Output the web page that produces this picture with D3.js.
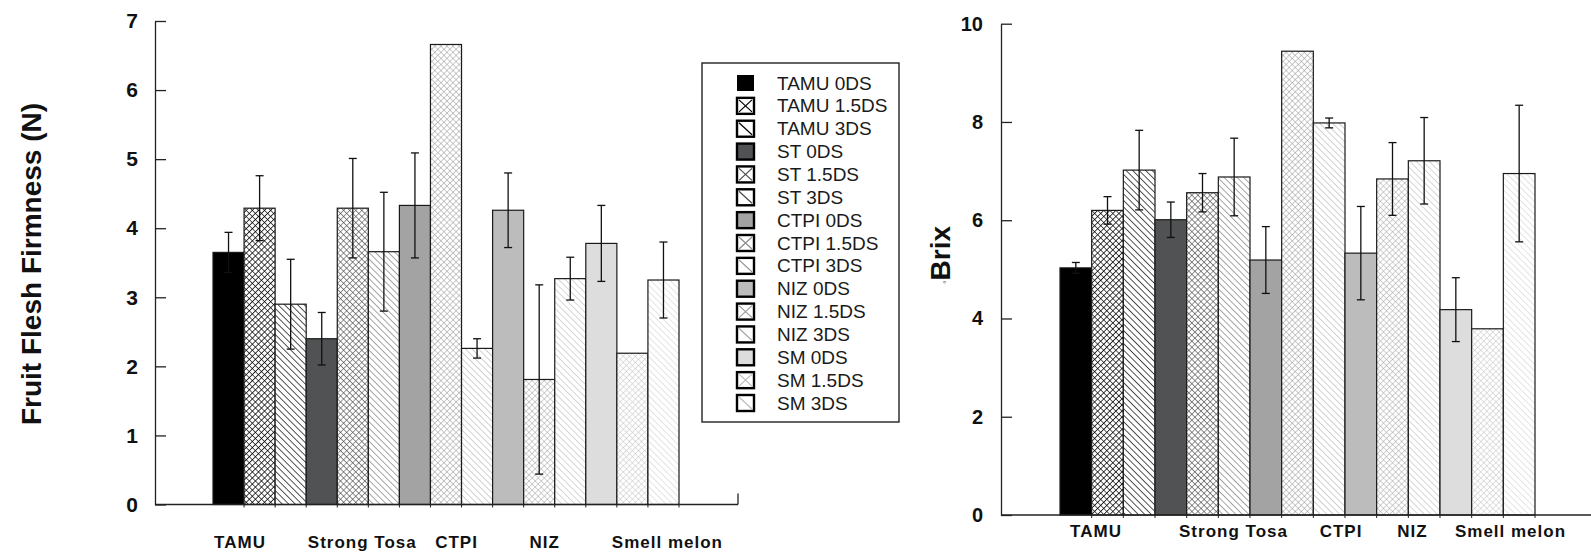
<!DOCTYPE html>
<html>
<head>
<title>Firmness and Brix</title>
<script src="https://d3js.org/d3.v7.min.js"></script>
<style>
  body { margin: 0; background: #fff; }
  svg { display: block; font-family: "Liberation Sans", Arial, sans-serif; }
  .axis path, .axis line { stroke: #222; stroke-width: 1.3; }
  .axis text { font-weight: bold; fill: #111; }
  .cat { font-size: 17px; font-weight: bold; letter-spacing: 1px; fill: #111; }
  .leg { font-size: 19px; fill: #1a1a1a; }
</style>
</head>
<body>
<svg width="1591" height="555"></svg>
<script>
// ---- data ----
const groups = ["TAMU", "Strong Tosa", "CTPI", "NIZ", "Smell melon"];
const codes = ["TAMU", "ST", "CTPI", "NIZ", "SM"];
const treatments = ["0DS", "1.5DS", "3DS"];

// bar order: group x treatment
const firmness    = [3.65, 4.29, 2.90,  2.40, 4.29, 3.66,  4.33, 6.66, 2.26,  4.26, 1.81, 3.27,  3.78, 2.19, 3.25];
const firmnessErr = [0.29, 0.47, 0.65,  0.38, 0.72, 0.86,  0.76, null, 0.14,  0.54, 1.37, 0.31,  0.55, null, 0.55];
const brix        = [5.03, 6.20, 7.02,  6.01, 6.56, 6.88,  5.19, 9.44, 7.98,  5.33, 6.84, 7.21,  4.18, 3.79, 6.95];
const brixErr     = [0.11, 0.28, 0.81,  0.36, 0.39, 0.79,  0.68, null, 0.10,  0.95, 0.74, 0.88,  0.65, null, 1.39];

const firmTicks = [0, 1, 2, 3, 4, 5, 6, 7];
const brixTicks = [0, 2, 4, 6, 8, 10];

// ---- styling per group ----
const solid = ["#000000", "#505254", "#a3a3a3", "#bcbcbc", "#dcdddc"];
const hatch = ["#000000", "#4a4a4a", "#8c8c8c", "#9c9c9c", "#bdbdbd"];
const hatchW = [1.5, 1.1, 0.9, 0.9, 0.9];

const keys = [];
codes.forEach((c, gi) => treatments.forEach((t, ti) => keys.push({ key: c + " " + t, gi, ti })));

const svg = d3.select("svg");
const defs = svg.append("defs");

codes.forEach((c, gi) => {
  // crosshatch for 1.5DS
  const s = 4.3;
  const px = defs.append("pattern")
    .attr("id", "cross" + gi)
    .attr("patternUnits", "userSpaceOnUse")
    .attr("width", s).attr("height", s)
    .attr("patternTransform", "rotate(45)");
  px.append("rect").attr("width", s).attr("height", s).attr("fill", "#fff");
  px.append("path").attr("d", `M0,0H${s}M0,0V${s}`)
    .attr("stroke", hatch[gi]).attr("stroke-width", hatchW[gi]);

  // back diagonal for 3DS
  const d = 4.6;
  const pd = defs.append("pattern")
    .attr("id", "diag" + gi)
    .attr("patternUnits", "userSpaceOnUse")
    .attr("width", d).attr("height", d)
    .attr("patternTransform", "rotate(45)");
  pd.append("rect").attr("width", d).attr("height", d).attr("fill", "#fff");
  pd.append("path").attr("d", `M0,0H${d}`)
    .attr("stroke", hatch[gi]).attr("stroke-width", hatchW[gi] * 0.9);
});

function fillOf(k) {
  if (k.ti === 0) return solid[k.gi];
  if (k.ti === 1) return `url(#cross${k.gi})`;
  return `url(#diag${k.gi})`;
}

function drawChart(opt) {
  const g = svg.append("g");
  const x = d3.scaleBand().domain(keys.map(k => k.key)).range(opt.barRange).padding(0);
  const y = d3.scaleLinear().domain([0, d3.max(opt.ticks)]).range(opt.yRange);
  const y0 = y(0);

  // bars
  g.selectAll(".bar").data(keys).enter().append("rect")
    .attr("x", k => x(k.key))
    .attr("y", (k, i) => y(opt.values[i]))
    .attr("width", x.bandwidth())
    .attr("height", (k, i) => y0 - y(opt.values[i]))
    .attr("fill", fillOf)
    .attr("stroke", "#1a1a1a")
    .attr("stroke-width", 1.2);

  // error bars
  const eb = keys.map((k, i) => ({ k, v: opt.values[i], e: opt.errors[i] })).filter(d => d.e != null);
  const cap = 4;
  const cx = d => x(d.k.key) + x.bandwidth() / 2;
  const eg = g.selectAll(".err").data(eb).enter().append("g")
    .attr("stroke", "#111").attr("stroke-width", 1.3);
  eg.append("line")
    .attr("x1", cx).attr("x2", cx)
    .attr("y1", d => y(d.v + d.e)).attr("y2", d => y(d.v - d.e));
  eg.append("line")
    .attr("x1", d => cx(d) - cap).attr("x2", d => cx(d) + cap)
    .attr("y1", d => y(d.v + d.e)).attr("y2", d => y(d.v + d.e));
  eg.append("line")
    .attr("x1", d => cx(d) - cap).attr("x2", d => cx(d) + cap)
    .attr("y1", d => y(d.v - d.e)).attr("y2", d => y(d.v - d.e));

  // y axis
  g.append("g")
    .attr("class", "axis")
    .attr("transform", `translate(${opt.axisX},0)`)
    .call(d3.axisLeft(y).tickValues(opt.ticks).tickFormat(d3.format("d"))
      .tickSizeInner(-11).tickSizeOuter(0).tickPadding(opt.tickPad))
    .call(a => a.selectAll("text").attr("font-size", opt.tickFont));

  // x axis baseline
  g.append("line").attr("x1", opt.axisX).attr("x2", opt.axisEnd)
    .attr("y1", y0).attr("y2", y0).attr("stroke", "#222").attr("stroke-width", 1.3);
  if (opt.endTick) {
    g.append("line").attr("x1", opt.axisEnd).attr("x2", opt.axisEnd)
      .attr("y1", y0).attr("y2", y0 - 11).attr("stroke", "#222").attr("stroke-width", 1.3);
  }
  // small ticks at bar edges
  g.selectAll(".bt").data(keys).enter().append("line")
    .attr("x1", k => x(k.key) + x.bandwidth()).attr("x2", k => x(k.key) + x.bandwidth())
    .attr("y1", y0).attr("y2", y0 + 3)
    .attr("stroke", "#222").attr("stroke-width", 1);

  // category labels
  groups.forEach((name, gi) => {
    const lx = x(codes[gi] + " 0DS") + x.bandwidth() * 1.5 + opt.labelShift[gi];
    g.append("text").attr("class", "cat")
      .attr("x", lx).attr("y", opt.labelY)
      .attr("text-anchor", "middle").attr("dominant-baseline", "central")
      .text(name);
  });
}

drawChart({
  values: firmness, errors: firmnessErr, ticks: firmTicks,
  barRange: [213, 679], yRange: [504.5, 21],
  axisX: 155, axisEnd: 738, endTick: true, tickPad: 17, tickFont: "21px",
  labelY: 542, labelShift: [-19.6, 9.5, 10.5, 5.4, 35]
});

drawChart({
  values: brix, errors: brixErr, ticks: brixTicks,
  barRange: [1060, 1535], yRange: [515, 23.7],
  axisX: 1001, axisEnd: 1591, endTick: false, tickPad: 18, tickFont: "20px",
  labelY: 531, labelShift: [-11.5, 31, 43.5, 20, 23]
});

// axis titles
svg.append("text")
  .attr("transform", "translate(41,264) rotate(-90)")
  .attr("text-anchor", "middle")
  .attr("font-size", 28).attr("font-weight", "bold").attr("fill", "#111")
  .text("Fruit Flesh Firmness (N)");

const bt = svg.append("text")
  .attr("transform", "translate(950,284) rotate(-90)")
  .attr("fill", "#111");
bt.append("tspan").attr("font-size", 9).attr("fill", "#555").text("\u00b0");
bt.append("tspan").attr("font-size", 28).attr("font-weight", "bold").text("Brix");

// legend
const leg = svg.append("g");
leg.append("rect").attr("x", 702).attr("y", 63).attr("width", 197).attr("height", 359)
  .attr("fill", "#fff").attr("stroke", "#222").attr("stroke-width", 1.4);
const rowH = (403 - 83) / 14;
keys.forEach((k, i) => {
  const cy = 83 + i * rowH;
  const sx = 737, sy = cy - 8, sw = 17, sh = 16;
  const row = leg.append("g");
  row.append("rect").attr("x", sx).attr("y", sy).attr("width", sw).attr("height", sh)
    .attr("fill", k.ti === 0 ? solid[k.gi] : "#fff")
    .attr("stroke", "#000").attr("stroke-width", k.ti === 0 && k.gi === 0 ? 0 : 2.4);
  if (k.ti === 1) {
    row.append("path")
      .attr("d", `M${sx + 2},${sy + 2}L${sx + sw - 2},${sy + sh - 2}M${sx + sw - 2},${sy + 2}L${sx + 2},${sy + sh - 2}`)
      .attr("stroke", hatch[k.gi]).attr("stroke-width", 1.2);
  } else if (k.ti === 2) {
    row.append("path")
      .attr("d", `M${sx + 2},${sy + 2}L${sx + sw - 2},${sy + sh - 2}`)
      .attr("stroke", hatch[k.gi]).attr("stroke-width", 1.2);
  }
  row.append("text").attr("class", "leg")
    .attr("x", 777).attr("y", cy)
    .attr("dominant-baseline", "central")
    .text(k.key);
});
</script>
</body>
</html>
